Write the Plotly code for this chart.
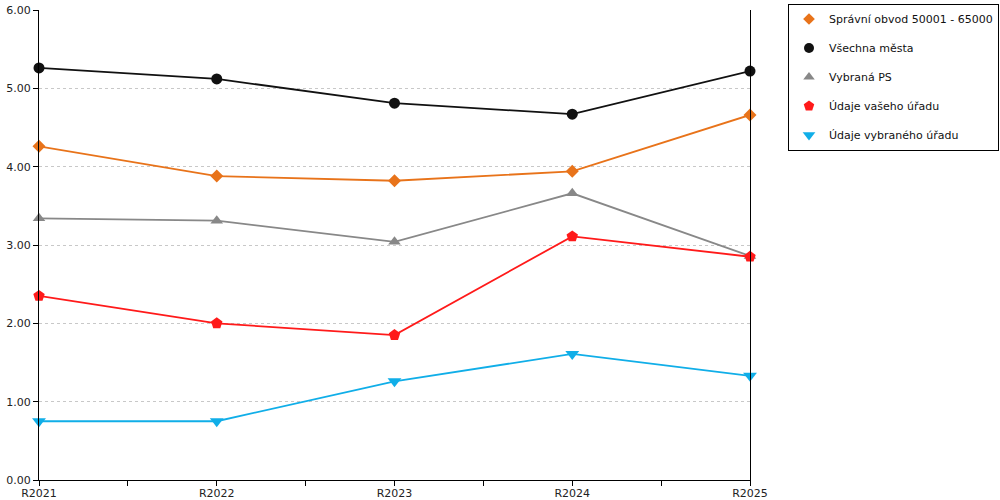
import plotly.graph_objects as go

years = ["R2021", "R2022", "R2023", "R2024", "R2025"]

spravni_obvod = [4.26, 3.88, 3.82, 3.94, 4.66]
vsechna_mesta = [5.26, 5.12, 4.81, 4.67, 5.22]
vybrana_ps = [3.34, 3.31, 3.04, 3.66, 2.86]
udaje_vaseho = [2.35, 2.00, 1.85, 3.11, 2.85]
udaje_vybraneho = [0.75, 0.75, 1.26, 1.61, 1.33]

series = [
    ("Správní obvod 50001 - 65000", spravni_obvod, "#e8731a", "diamond", 10),
    ("Všechna města", vsechna_mesta, "#111111", "circle", 11),
    ("Vybraná PS", vybrana_ps, "#888888", "triangle-up", 11),
    ("Údaje vašeho úřadu", udaje_vaseho, "#ff1a1a", "pentagon", 12),
    ("Údaje vybraného úřadu", udaje_vybraneho, "#10aee8", "triangle-down", 12),
]

xs = list(range(len(years)))

fig = go.Figure()
for i, (name, vals, color, symbol, size) in enumerate(series):
    fig.add_trace(
        go.Scatter(
            x=xs,
            y=vals,
            mode="lines+markers",
            line=dict(color=color, width=1.8),
            marker=dict(symbol=symbol, size=size, color=color),
            showlegend=False,
            cliponaxis=False,
        )
    )
    # legend-only entry: marker without the line
    fig.add_trace(
        go.Scatter(
            x=[None],
            y=[None],
            mode="markers",
            name=name,
            legendgroup=f"g{i}",
            marker=dict(symbol=symbol, size=size - 1, color=color),
        )
    )

tickvals = [v / 2 for v in range(2 * len(years) - 1)]
ticktext = [years[int(v)] if v == int(v) else "" for v in tickvals]

fig.update_xaxes(
    range=[0, len(years) - 1],
    tickvals=tickvals,
    ticktext=ticktext,
    ticks="outside",
    ticklen=5,
    tickcolor="black",
    showline=True,
    linecolor="black",
    linewidth=1,
    showgrid=False,
    zeroline=False,
    automargin=False,
    ticklabelstandoff=-2,
    tickfont=dict(size=11, color="#222222"),
)
fig.update_yaxes(
    range=[0, 6],
    dtick=1,
    tickformat=".2f",
    ticks="outside",
    ticklen=5,
    tickcolor="black",
    showline=True,
    mirror=True,
    linecolor="black",
    linewidth=1,
    showgrid=True,
    gridcolor="#c8c8c8",
    griddash="dot",
    zeroline=False,
    automargin=False,
    tickfont=dict(size=11, color="#222222"),
)
fig.update_layout(
    width=1000,
    height=500,
    margin=dict(l=39, r=250, t=10, b=20, autoexpand=False),
    plot_bgcolor="white",
    paper_bgcolor="white",
    font=dict(family="DejaVu Sans", size=12, color="#111111"),
    legend=dict(
        xref="container",
        yref="container",
        x=0.788,
        y=0.993,
        xanchor="left",
        yanchor="top",
        bordercolor="black",
        borderwidth=1,
        bgcolor="white",
        tracegroupgap=10,
        font=dict(size=11),
        itemwidth=30,
    ),
)
fig.write_html(
    "out.html",
    config=dict(displayModeBar=False),
    post_script="document.body.style.margin='0';",
)
